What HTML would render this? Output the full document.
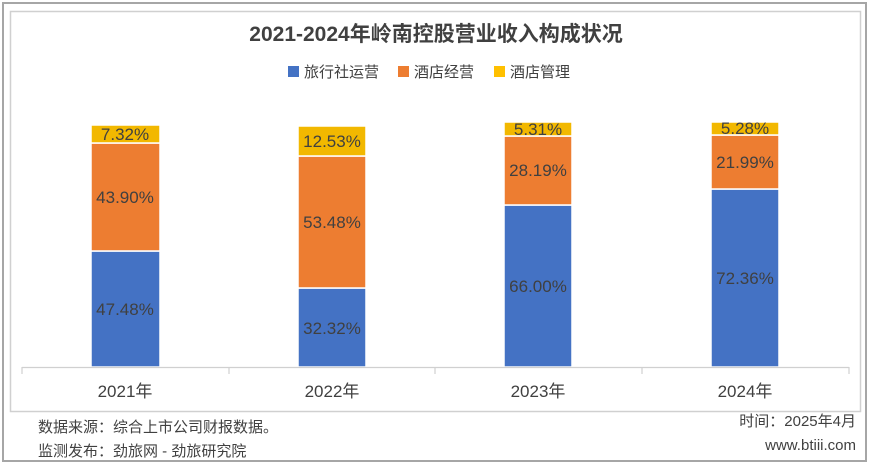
<!DOCTYPE html>
<html><head><meta charset="utf-8"><style>
body{margin:0;background:#fff;width:871px;height:468px;overflow:hidden;font-family:"Liberation Sans","Noto Sans CJK SC",sans-serif}
</style></head><body>
<svg width="871" height="468" xmlns="http://www.w3.org/2000/svg" style="font-family:'Liberation Sans','Noto Sans CJK SC',sans-serif">
<rect x="3" y="3" width="863" height="458" fill="#fff" stroke="#a6a6a6" stroke-width="2"/>
<rect x="10.5" y="11.5" width="850" height="400" fill="#fff" stroke="#d0d0d0" stroke-width="1.5"/>
<text x="436" y="41" text-anchor="middle" font-size="21" font-weight="bold" fill="#404040">2021-2024年岭南控股营业收入构成状况</text>
<rect x="288" y="66" width="11" height="11" fill="#4472c4"/><text x="304" y="77" font-size="15" fill="#404040">旅行社运营</text>
<rect x="398" y="66" width="11" height="11" fill="#ed7d31"/><text x="414" y="77" font-size="15" fill="#404040">酒店经营</text>
<rect x="494" y="66" width="11" height="11" fill="#ffc000"/><text x="510" y="77" font-size="15" fill="#404040">酒店管理</text>
<g stroke="#fff" stroke-width="1.5">
<rect x="91" y="251" width="69" height="116" fill="#4472c4"/>
<rect x="91" y="143" width="69" height="108" fill="#ed7d31"/>
<rect x="91" y="125" width="69" height="18" fill="#f2b800"/>
<rect x="298" y="288" width="68" height="79" fill="#4472c4"/>
<rect x="298" y="156" width="68" height="132" fill="#ed7d31"/>
<rect x="298" y="126" width="68" height="30" fill="#f2b800"/>
<rect x="504" y="205" width="68" height="162" fill="#4472c4"/>
<rect x="504" y="136" width="68" height="69" fill="#ed7d31"/>
<rect x="504" y="122" width="68" height="14" fill="#f2b800"/>
<rect x="711" y="189" width="68" height="178" fill="#4472c4"/>
<rect x="711" y="135" width="68" height="54" fill="#ed7d31"/>
<rect x="711" y="122" width="68" height="13" fill="#f2b800"/>
</g>
<g font-size="17" fill="#404040" text-anchor="middle">
<text x="125" y="140">7.32%</text><text x="125" y="203">43.90%</text><text x="125" y="315">47.48%</text>
<text x="332" y="147">12.53%</text><text x="332" y="228">53.48%</text><text x="332" y="334">32.32%</text>
<text x="538" y="135">5.31%</text><text x="538" y="176">28.19%</text><text x="538" y="292">66.00%</text>
<text x="745" y="134">5.28%</text><text x="745" y="168">21.99%</text><text x="745" y="284">72.36%</text>
</g>
<g stroke="#d0d0d0" stroke-width="1.2">
<line x1="22" y1="367.5" x2="849" y2="367.5"/>
<line x1="22" y1="367" x2="22" y2="374"/><line x1="229" y1="367" x2="229" y2="374"/><line x1="435" y1="367" x2="435" y2="374"/><line x1="642" y1="367" x2="642" y2="374"/><line x1="849" y1="367" x2="849" y2="374"/>
</g>
<g font-size="17" fill="#404040" text-anchor="middle">
<text x="125" y="397">2021年</text><text x="332" y="397">2022年</text><text x="538" y="397">2023年</text><text x="745" y="397">2024年</text>
</g>
<g font-size="15" fill="#404040">
<text x="38" y="432">数据来源：综合上市公司财报数据。</text>
<text x="38" y="456">监测发布：劲旅网 - 劲旅研究院</text>
<text x="856" y="426" text-anchor="end">时间：2025年4月</text>
<text x="856" y="450" text-anchor="end">www.btiii.com</text>
</g>
</svg>
</body></html>
